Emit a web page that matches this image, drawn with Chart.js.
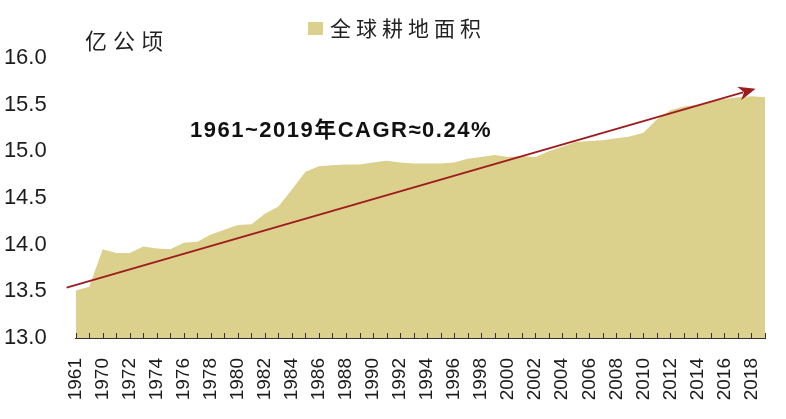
<!DOCTYPE html>
<html>
<head>
<meta charset="utf-8">
<script src="https://cdn.jsdelivr.net/npm/chart.js@4.4.1/dist/chart.umd.min.js"></script>
<style>
  html, body { margin: 0; padding: 0; background: #ffffff; }
  #wrap { width: 786px; height: 419px; position: relative; }
</style>
</head>
<body>
<div id="wrap"><canvas id="c" width="786" height="419"></canvas></div>
<script>
// ---- data ----
const years = ['1961','1962','1970','1971','1972','1973','1974','1975','1976','1977','1978','1979',
  '1980','1981','1982','1983','1984','1985','1986','1987','1988','1989','1990','1991','1992','1993',
  '1994','1995','1996','1997','1998','1999','2000','2001','2002','2003','2004','2005','2006','2007',
  '2008','2009','2010','2011','2012','2013','2014','2015','2016','2017','2018','2019'];
const cropland = [13.51,13.55,13.95,13.91,13.91,13.98,13.96,13.95,14.02,14.03,14.11,14.16,
  14.21,14.22,14.33,14.41,14.59,14.78,14.84,14.85,14.86,14.86,14.88,14.90,14.88,14.87,
  14.87,14.87,14.88,14.92,14.94,14.96,14.94,14.95,14.94,15.00,15.05,15.10,15.11,15.12,
  15.14,15.16,15.20,15.34,15.44,15.48,15.50,15.53,15.56,15.58,15.59,15.58];
const yTicks = [13.0, 13.5, 14.0, 14.5, 15.0, 15.5, 16.0];
const seriesName = '全球耕地面积';
const unitLabel = '亿公顷';
const cagrText = '1961~2019年CAGR≈0.24%';
// trend arrow in data units (category index, value)
const arrowFrom = [-0.67, 13.54];
const arrowTo = [50.3, 15.67];

const FILL = '#DBD08C';
const ARROW = '#9E1C1E';
const TXT = '#1c1c1c';

const decor = {
  id: 'decor',
  afterDatasetsDraw(chart) {
    const ctx = chart.ctx, xs = chart.scales.x, ys = chart.scales.y, ca = chart.chartArea;
    ctx.save();
    // x tick marks pointing inward
    ctx.strokeStyle = '#333';
    ctx.lineWidth = 1;
    ctx.beginPath();
    for (let i = 0; i < years.length; i++) {
      const px = Math.round(xs.getPixelForValue(i)) + 0.5;
      ctx.moveTo(px, ca.bottom - 5);
      ctx.lineTo(px, ca.bottom);
    }
    ctx.stroke();
    // trend arrow
    const x1 = xs.getPixelForValue(arrowFrom[0]), y1 = ys.getPixelForValue(arrowFrom[1]);
    const x2 = xs.getPixelForValue(arrowTo[0]), y2 = ys.getPixelForValue(arrowTo[1]);
    const ang = Math.atan2(y2 - y1, x2 - x1);
    const hl = 17, hw = 7;
    const bx = x2 - hl * Math.cos(ang), by = y2 - hl * Math.sin(ang);
    ctx.strokeStyle = ARROW;
    ctx.lineWidth = 2;
    ctx.beginPath();
    ctx.moveTo(x1, y1);
    ctx.lineTo(bx + 4 * Math.cos(ang), by + 4 * Math.sin(ang));
    ctx.stroke();
    ctx.fillStyle = ARROW;
    ctx.beginPath();
    ctx.moveTo(x2, y2);
    ctx.lineTo(bx - hw * Math.sin(ang), by + hw * Math.cos(ang));
    ctx.lineTo(bx + 5 * Math.cos(ang), by + 5 * Math.sin(ang));
    ctx.lineTo(bx + hw * Math.sin(ang), by - hw * Math.cos(ang));
    ctx.closePath();
    ctx.fill();
    // CAGR annotation
    ctx.fillStyle = '#111';
    ctx.font = 'bold 22px "Liberation Sans", "Noto Sans CJK SC", sans-serif';
    ctx.textBaseline = 'alphabetic';
    ctx.textAlign = 'left';
    try { ctx.letterSpacing = '1.5px'; } catch (e) {}
    ctx.fillText(cagrText, 190, 137);
    // unit label
    ctx.font = '22px "Noto Sans CJK SC", sans-serif';
    ctx.fillStyle = '#222';
    ctx.textBaseline = 'middle';
    try { ctx.letterSpacing = '6px'; } catch (e) {}
    ctx.fillText(unitLabel, 85, 41);
    // legend
    ctx.fillStyle = FILL;
    ctx.fillRect(308, 22, 15, 13);
    ctx.fillStyle = '#222';
    ctx.font = '21px "Noto Sans CJK SC", sans-serif';
    try { ctx.letterSpacing = '5px'; } catch (e) {}
    ctx.fillText(seriesName, 330, 28);
    ctx.restore();
  }
};

new Chart(document.getElementById('c'), {
  type: 'line',
  data: {
    labels: years,
    datasets: [{
      label: seriesName,
      data: cropland,
      fill: 'start',
      backgroundColor: FILL,
      borderWidth: 0,
      borderColor: FILL,
      pointRadius: 0,
      tension: 0
    }]
  },
  options: {
    responsive: false,
    animation: false,
    devicePixelRatio: 1,
    layout: { autoPadding: false, padding: { top: 58, left: 4, right: 21, bottom: 0 } },
    plugins: { legend: { display: false }, tooltip: { enabled: false } },
    scales: {
      x: {
        offset: false,
        afterFit: (s) => { s.height = 81; s.paddingLeft = 0; s.paddingRight = 0; },
        grid: { display: false, drawTicks: false },
        border: { display: true, color: '#333', width: 1 },
        ticks: {
          autoSkip: false,
          maxRotation: 90,
          minRotation: 90,
          padding: 20,
          color: TXT,
          font: { family: '"Liberation Sans", Arial, sans-serif', size: 19 },
          callback: (v, i) => (i % 2 === 0 ? years[i] : '')
        }
      },
      y: {
        min: 13,
        max: 16,
        afterFit: (s) => { s.width = 71.7; s.paddingTop = 0; s.paddingBottom = 0; },
        afterBuildTicks: (s) => { s.ticks = yTicks.map(v => ({ value: v })); },
        grid: { display: false, drawTicks: false },
        border: { display: false },
        ticks: {
          padding: 29,
          color: TXT,
          font: { family: '"Liberation Sans", Arial, sans-serif', size: 22 },
          callback: (v) => Number(v).toFixed(1)
        }
      }
    }
  },
  plugins: [decor]
});
</script>
</body>
</html>
